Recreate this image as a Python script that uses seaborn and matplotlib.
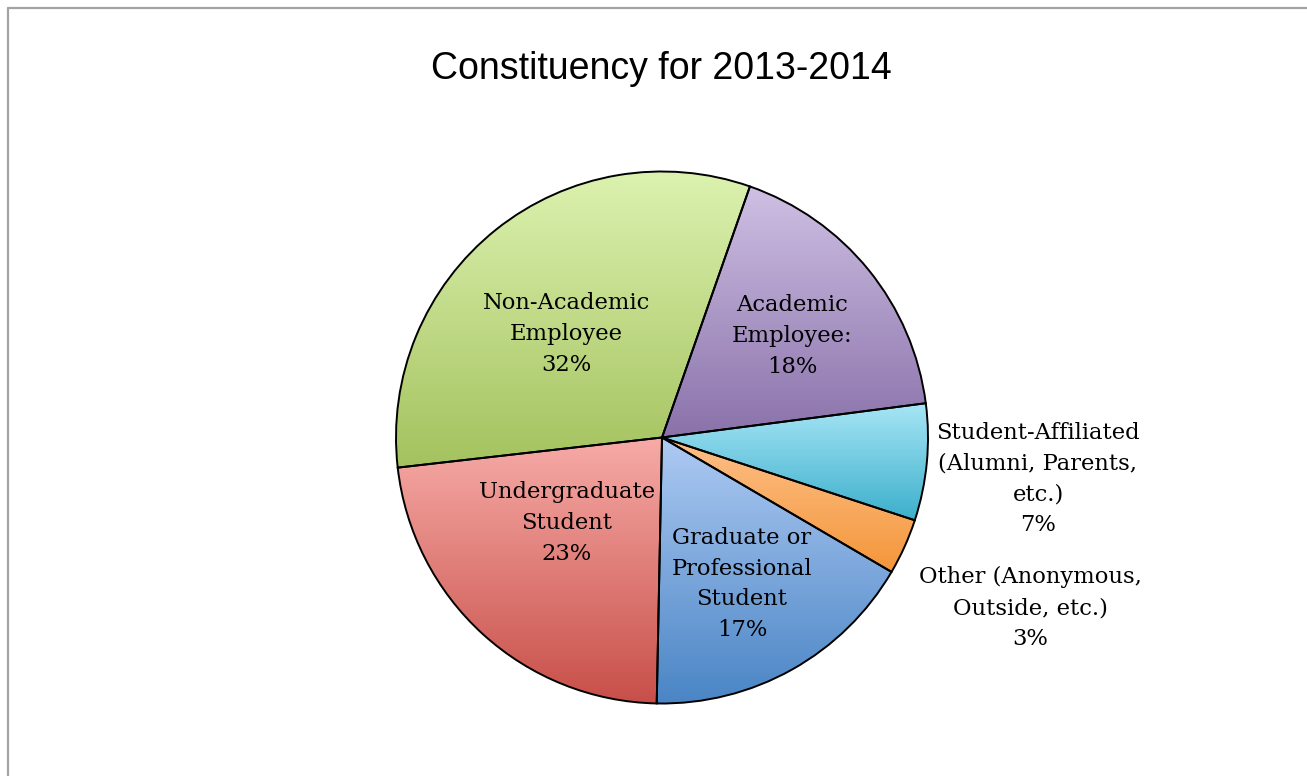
import numpy as np
import matplotlib
matplotlib.use("Agg")
import matplotlib.pyplot as plt
from matplotlib.lines import Line2D
from matplotlib.colors import LinearSegmentedColormap
import seaborn as sns

# ---- data (clockwise order, starting just right of 12 o'clock) ----
categories = [
    "Academic\nEmployee:",
    "Student-Affiliated\n(Alumni, Parents,\netc.)",
    "Other (Anonymous,\nOutside, etc.)",
    "Graduate or\nProfessional\nStudent",
    "Undergraduate\nStudent",
    "Non-Academic\nEmployee",
]
values = [17.6, 7.1, 3.4, 16.9, 22.9, 32.2]
pct_labels = ["18%", "7%", "3%", "17%", "23%", "32%"]
title = "Constituency for 2013-2014"

top_colors = ["#cfc0e4", "#a8e6f6", "#fdc088", "#aecaf3", "#f7aba7", "#dcf2b0"]
bottom_colors = ["#8a72aa", "#3cafcb", "#f4963a", "#4a85c5", "#c84f49", "#a4c25e"]

sns.set_theme(style="white")
plt.rcParams["font.family"] = ["DejaVu Serif"]

W, H = 1307, 776
fig = plt.figure(figsize=(W / 100, H / 100), dpi=100)
fig.patch.set_facecolor("white")

cx, cy, R = 662, 437.5, 266
ax = fig.add_axes([(cx - R) / W, (H - cy - R) / H, 2 * R / W, 2 * R / H])
ax.set_xlim(-1, 1)
ax.set_ylim(-1, 1)
ax.set_aspect("equal")
ax.axis("off")

wedges, _ = ax.pie(values, startangle=90 - 19.3, counterclock=False, radius=1,
                   wedgeprops=dict(edgecolor="black", linewidth=1.4))

grad = np.linspace(0, 1, 256).reshape(-1, 1)
for w, ct, cb in zip(wedges, top_colors, bottom_colors):
    th = np.radians(np.linspace(w.theta1, w.theta2, 200))
    ys = np.concatenate([[0.0], np.sin(th)])
    y0, y1 = ys.min(), ys.max()
    cmap = LinearSegmentedColormap.from_list("g", [cb, ct])
    im = ax.imshow(grad, extent=[-1, 1, y0, y1], origin="lower", cmap=cmap,
                   aspect="auto", zorder=1, interpolation="bilinear")
    im.set_clip_path(w)
    w.set_facecolor("none")
    w.set_zorder(2)
ax.set_xlim(-1, 1)
ax.set_ylim(-1, 1)

# label positions in pixel coordinates (centre of text block)
label_px = [(792, 336), (1038, 479), (1030, 608), (742, 584), (567, 523), (566, 334)]
for (px, py), cat, pct in zip(label_px, categories, pct_labels):
    fig.text(px / W, 1 - py / H, cat + "\n" + pct, ha="center", va="center",
             fontsize=16.3, color="black", linespacing=1.52, family="DejaVu Serif")

fig.text(661 / W, 1 - 69 / H, title, ha="center", va="center", fontsize=27,
         family="Liberation Sans", color="black")

# chart border (top and left visible)
fig.add_artist(Line2D([7.5 / W, 1.0], [1 - 7.5 / H, 1 - 7.5 / H], color="#a3a3a3", lw=1.6))
fig.add_artist(Line2D([7.5 / W, 7.5 / W], [0.0, 1 - 7.5 / H], color="#a3a3a3", lw=1.6))

fig.savefig("out.png", dpi=100, facecolor="white")
